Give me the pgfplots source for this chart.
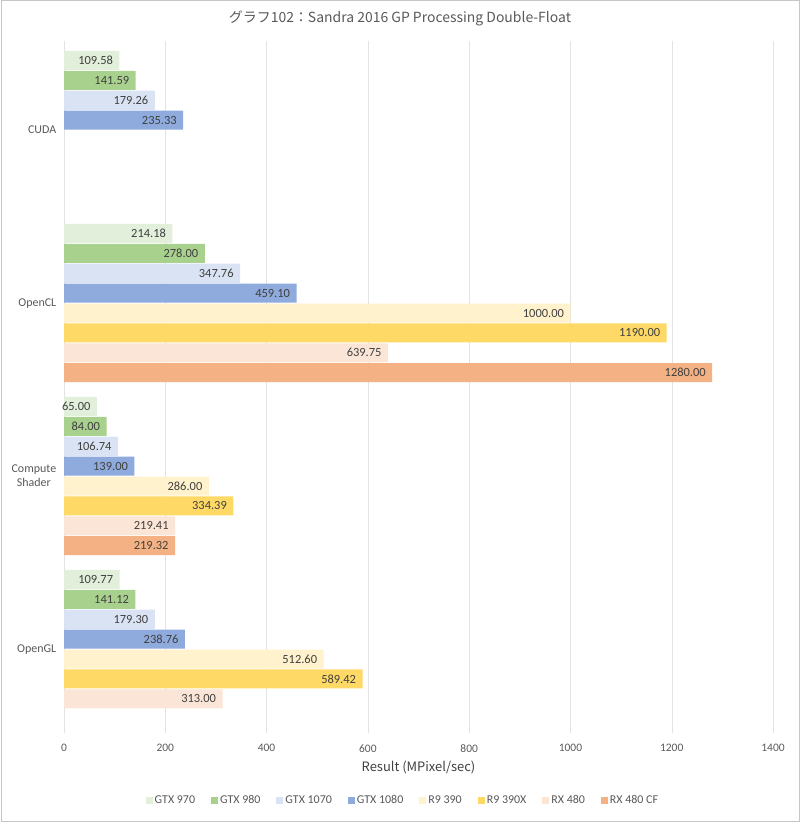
\documentclass[border=0pt]{standalone}
\usepackage{pgfplots}
\pgfplotsset{compat=1.18}
\usepackage{fontspec}
\setmainfont{Carlito}
\newfontfamily\jp{Noto Sans CJK JP}
\definecolor{c1}{HTML}{E2EFDA}
\definecolor{c2}{HTML}{A9D18E}
\definecolor{c3}{HTML}{DAE3F3}
\definecolor{c4}{HTML}{8FAADC}
\definecolor{c5}{HTML}{FFF2CC}
\definecolor{c6}{HTML}{FFD966}
\definecolor{c7}{HTML}{FBE5D6}
\definecolor{c8}{HTML}{F4B183}
\definecolor{txt}{HTML}{595959}
\definecolor{lbl}{HTML}{404040}
\begin{document}
\begin{tikzpicture}[x=1bp,y=1bp]
\useasboundingbox (0,0) rectangle (800,822);
\draw[gray!45,line width=0.8bp] (1.5,0.5) rectangle (799.5,821.5);
\node[font=\jp\fontsize{14}{16}\selectfont, text=txt] at (400,804) {グラフ102：Sandra 2016 GP Processing Double-Float};
\begin{axis}[
  at={(64bp,89bp)}, anchor=south west,
  scale only axis, width=709bp, height=692bp,
  xbar, bar width=0.11,
  xmin=0, xmax=1400, ymin=-0.515, ymax=3.485,
  y dir=reverse,
  xtick={0,200,...,1400},
  ytick={0,1,2,3},
  yticklabels={CUDA,OpenCL,{Compute\\Shader},OpenGL},
  yticklabel style={align=center, text=txt, font=\fontsize{12}{14}\selectfont},
  xticklabel style={text=txt, font=\fontsize{11.5}{13}\selectfont, yshift=-8bp},
  /pgf/number format/assume math mode=true,
  /pgf/number format/1000 sep={},
  axis line style={draw=none},
  tick style={draw=none},
  xmajorgrids, major grid style={gray!22},
  xlabel={Result (MPixel/sec)},
  xlabel style={font=\jp\fontsize{13}{15}\selectfont, text=lbl, yshift=-2bp},
  nodes near coords={\pgfmathprintnumber[fixed,fixed zerofill,precision=2,1000 sep={},assume math mode=true]{\pgfplotspointmeta}},
  every node near coord/.append style={anchor=east, xshift=-3bp, text=lbl, font=\fontsize{12.5}{14}\selectfont},
  legend columns=8,
  legend style={draw=none, at={(axis description cs:0.478,-0.097)}, anchor=center, font=\fontsize{12}{14}\selectfont, text=txt, /tikz/every even column/.append style={column sep=14bp}},
  legend image code/.code={\fill[#1,draw=none] (0bp,-3.5bp) rectangle (7bp,3.5bp);},
]
\addplot[fill=c1,draw=none,bar shift=-0.4025] coordinates {(109.58,0) (214.18,1) (65,2) (109.77,3)};
\addplot[fill=c2,draw=none,bar shift=-0.2875] coordinates {(141.59,0) (278.00,1) (84,2) (141.12,3)};
\addplot[fill=c3,draw=none,bar shift=-0.1725] coordinates {(179.26,0) (347.76,1) (106.74,2) (179.30,3)};
\addplot[fill=c4,draw=none,bar shift=-0.0575] coordinates {(235.33,0) (459.10,1) (139.00,2) (238.76,3)};
\addplot[fill=c5,draw=none,bar shift=0.0575] coordinates {(1000.00,1) (286.00,2) (512.60,3)};
\addplot[fill=c6,draw=none,bar shift=0.1725] coordinates {(1190.00,1) (334.39,2) (589.42,3)};
\addplot[fill=c7,draw=none,bar shift=0.2875] coordinates {(639.75,1) (219.41,2) (313.00,3)};
\addplot[fill=c8,draw=none,bar shift=0.4025] coordinates {(1280.00,1) (219.32,2)};
\legend{GTX 970,GTX 980,GTX 1070,GTX 1080,R9 390,R9 390X,RX 480,RX 480 CF}
\end{axis}
\end{tikzpicture}
\end{document}
